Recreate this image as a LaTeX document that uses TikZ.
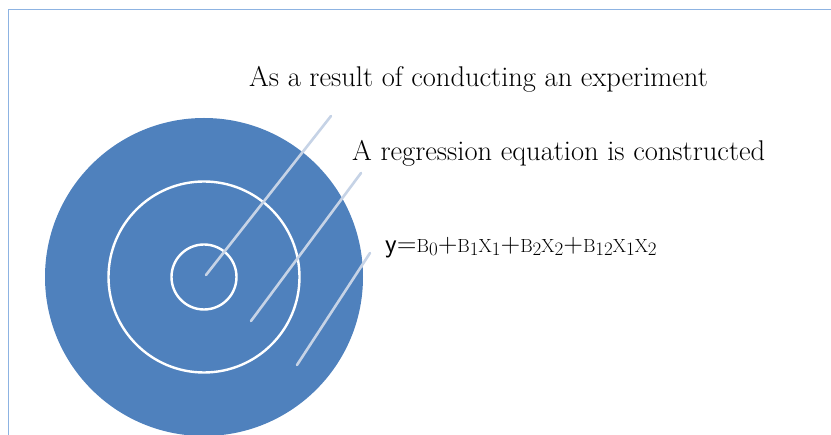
\documentclass[tikz,border=0pt]{standalone}
\usepackage{fontspec}
\definecolor{discblue}{HTML}{4F81BD}
\definecolor{leadline}{HTML}{C6D3E6}
\definecolor{framecol}{HTML}{8DB3E2}
\newcommand{\lowsub}[1]{\raisebox{-0.35ex}{#1}}
\newcommand{\eqbig}[1]{{\fontsize{27}{29}\selectfont\sffamily #1}}
\tikzset{
  labeltext/.style={anchor=base west,inner sep=0pt,font=\fontsize{28.5}{32}\selectfont},
  leader/.style={draw=leadline,line width=2.6pt,line cap=round}
}
\begin{document}
\begin{tikzpicture}[x=1pt,y=-1pt,line cap=round,line join=round]
  \useasboundingbox (0,0) rectangle (831,435);
  \coordinate (C) at (204,277);
  \begin{scope}
    \clip (0,0) rectangle (831,435);
    \fill[discblue] (C) circle[radius=159];
    \draw[framecol,line width=1.5pt] (831,9.5) -- (8.5,9.5) -- (8.5,440);
  \end{scope}
  \draw[white,line width=2.4pt] (C) circle[radius=95.5];
  \draw[white,line width=2.4pt] (C) circle[radius=32.5];
  \coordinate (A1) at (206,275);
  \coordinate (A2) at (331,116);
  \coordinate (B1) at (251,321);
  \coordinate (B2) at (361,173);
  \coordinate (D1) at (297,365);
  \coordinate (D2) at (370,253);
  \draw[leader] (A1) -- (A2);
  \draw[leader] (B1) -- (B2);
  \draw[leader] (D1) -- (D2);
  \node[labeltext] (exper) at (249,87) {As a result of conducting an experiment};
  \node[labeltext] (regr) at (352,161) {A regression equation is constructed};
  \node[anchor=base west,inner sep=0pt] (eqn) at (385,253)
    {\eqbig{y=}{\fontsize{19}{21}\selectfont
     B\lowsub{0}\eqbig{+}B\lowsub{1}X\lowsub{1}\eqbig{+}B\lowsub{2}X\lowsub{2}\eqbig{+}B\lowsub{12}X\lowsub{1}X\lowsub{2}}};
\end{tikzpicture}
\end{document}
